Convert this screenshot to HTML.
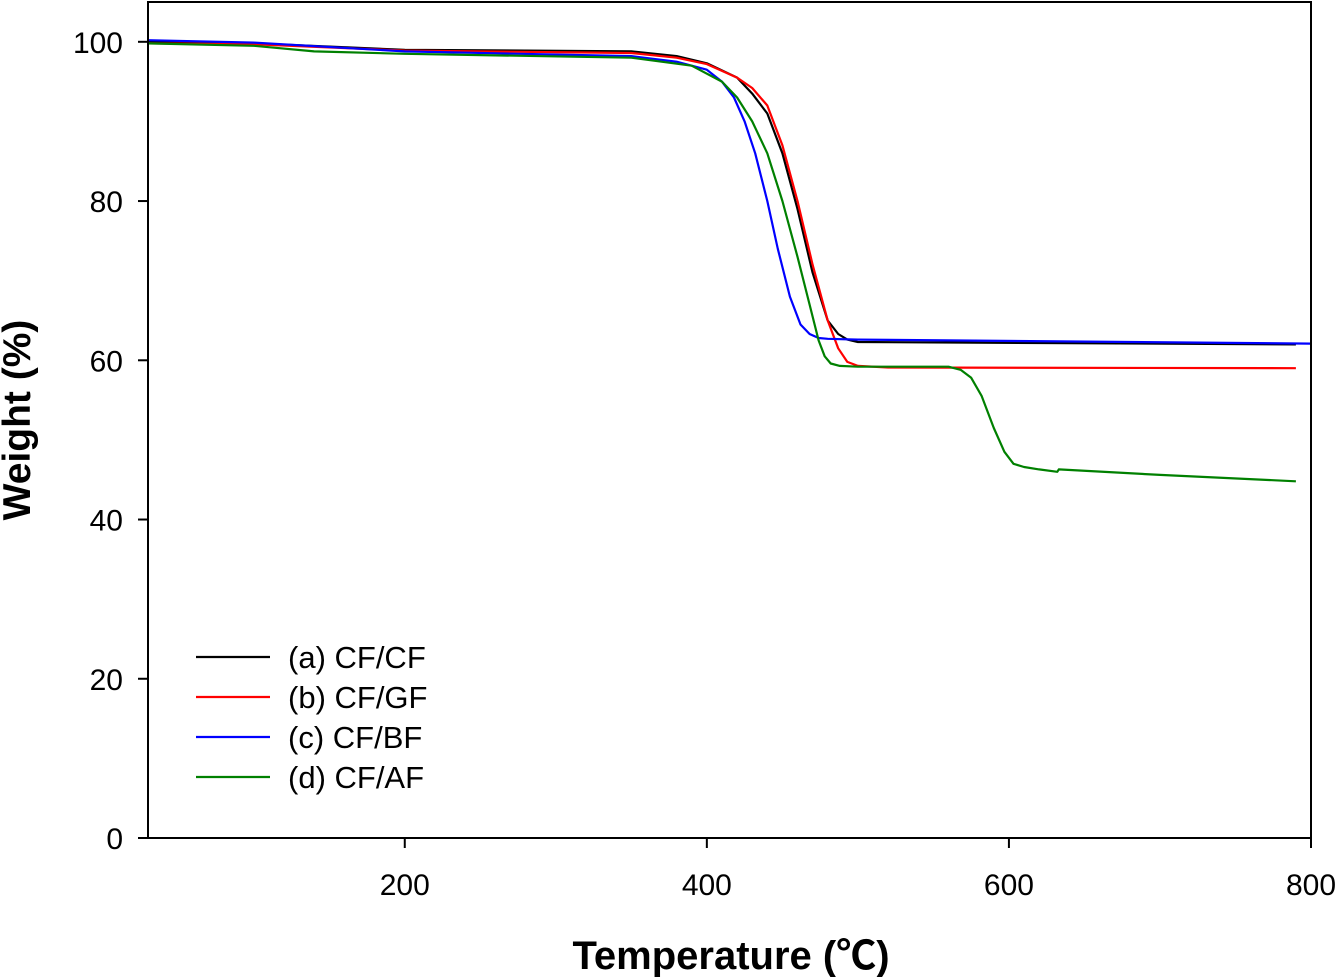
<!DOCTYPE html>
<html><head><meta charset="utf-8"><style>body{margin:0;background:#fff}svg{display:block}text{font-family:"Liberation Sans","Noto Sans CJK JP",sans-serif}</style></head>
<body>
<svg id="c" width="1339" height="977"></svg>
<script>
const xTicks=[200,400,600,800];
const yTicks=[0,20,40,60,80,100];
const seriesNames=["(a) CF/CF","(b) CF/GF","(c) CF/BF","(d) CF/AF"];
const seriesColors=["#000000","#ff0000","#0000ff","#008000"];
const aT=[30,100,200,350,380,400,420,430,440,450,460,470,480,487,493,500,790];
const aW=[100,99.8,99,98.8,98.2,97.3,95.5,93.5,91,86,79,71,65,63.3,62.6,62.3,62];
const bT=[30,100,200,350,380,400,420,430,440,450,460,470,480,487,493,500,520,790];
const bW=[99.8,99.7,98.9,98.6,98,97.2,95.5,94.2,92,87,80,72,65,61.5,59.8,59.3,59.1,59];
const cT=[30,100,200,350,380,400,410,418,425,432,440,447,455,462,468,474,480,500,800];
const cW=[100.2,99.9,98.8,98.2,97.5,96.5,95,93,90,86,80,74,68,64.5,63.3,62.8,62.7,62.6,62.1];
const dT=[30,100,140,200,350,390,410,420,430,440,450,460,468,474,478,482,488,500,560,568,575,582,590,597,603,610,620,632,633,700,790];
const dW=[99.8,99.5,98.8,98.5,98,97,95,93,90,86,80,73,67,62.5,60.5,59.6,59.3,59.2,59.2,58.8,57.8,55.5,51.5,48.5,47,46.6,46.3,46,46.3,45.6,44.8];
const series=[[aT,aW],[bT,bW],[cT,cW],[dT,dW]];
const X0=148,X1=1311,Y0=838,Y1=2,xmin=30,xmax=800,ymin=0,ymax=105;
const sx=v=>X0+(v-xmin)/(xmax-xmin)*(X1-X0);
const sy=v=>Y0-(v-ymin)/(ymax-ymin)*(Y0-Y1);
const svg=document.getElementById('c');const NS="http://www.w3.org/2000/svg";
function mk(t,a,p){const e=document.createElementNS(NS,t);for(const k in a)e.setAttribute(k,a[k]);(p||svg).appendChild(e);return e;}
series.forEach((s,i)=>{
 const d=s[0].map((t,j)=>(j?'L':'M')+sx(t).toFixed(1)+','+sy(s[1][j]).toFixed(1)).join('');
 const p=mk('path',{d:d,fill:'none',stroke:seriesColors[i],'stroke-width':2.2,'stroke-linejoin':'round'});
 
 
});
const fr=mk('rect',{x:X0,y:Y1,width:X1-X0,height:Y0-Y1,fill:'none',stroke:'#000','stroke-width':2});


xTicks.forEach(v=>{
 mk('line',{x1:sx(v),x2:sx(v),y1:Y0,y2:Y0+10,stroke:'#000','stroke-width':2});
 const t=mk('text',{x:sx(v),y:Y0+57,'text-anchor':'middle','font-size':30});t.textContent=v;
 
 
});
yTicks.forEach(v=>{
 mk('line',{x1:X0-10,x2:X0,y1:sy(v),y2:sy(v),stroke:'#000','stroke-width':2});
 const t=mk('text',{x:X0-25,y:sy(v)+11,'text-anchor':'end','font-size':30});t.textContent=v;
 
 
});
const xt=mk('text',{x:731,y:969,'text-anchor':'middle','font-size':40,'font-weight':'bold'});xt.textContent='Temperature (℃)';


const yt=mk('text',{x:0,y:0,'text-anchor':'middle','font-size':39,'font-weight':'bold',transform:'translate(30,420) rotate(-90)'});yt.textContent='Weight (%)';


seriesNames.forEach((n,i)=>{
 const y=657+i*40;
 const g=mk('g',{});
 
 
 mk('line',{x1:196,x2:270,y1:y,y2:y,stroke:seriesColors[i],'stroke-width':2.2},g);
 const t=mk('text',{x:288,y:y+11,'font-size':31},g);t.textContent=n;
});
</script>
</body></html>
